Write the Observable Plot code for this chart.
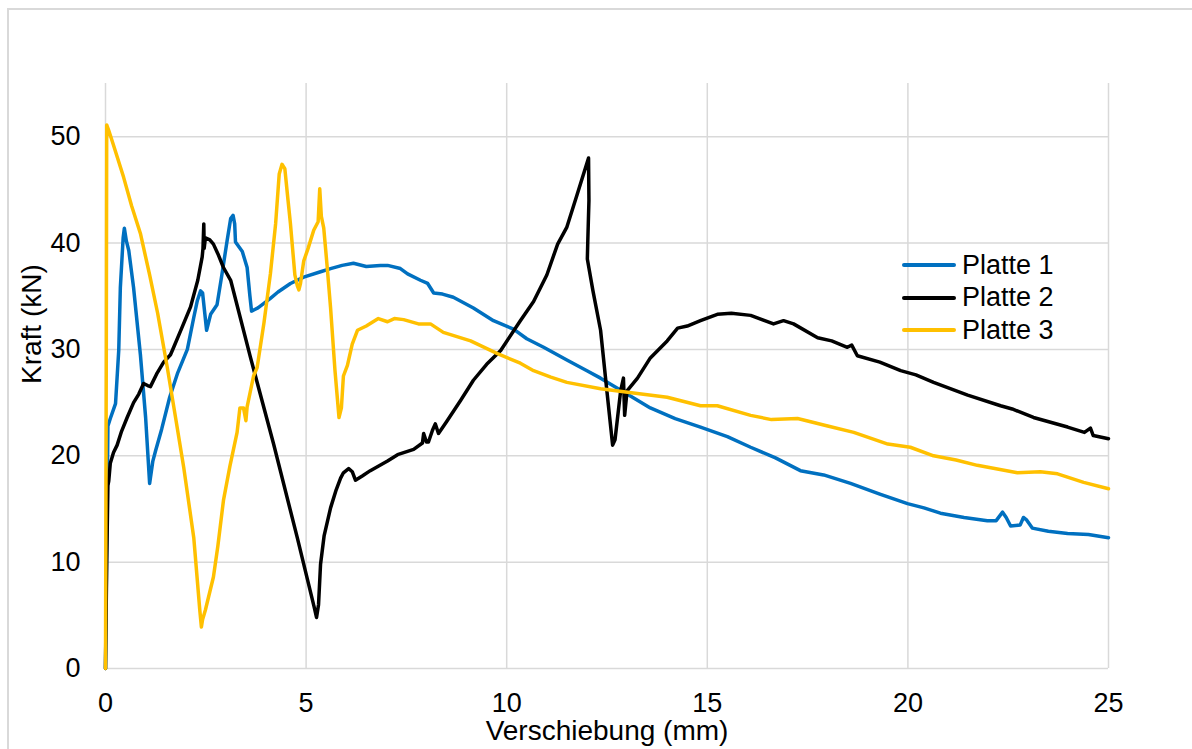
<!DOCTYPE html>
<html><head><meta charset="utf-8">
<script src="https://cdn.jsdelivr.net/npm/d3@7"></script>
<script src="https://cdn.jsdelivr.net/npm/@observablehq/plot@0.6"></script>
<style>
body{margin:0;background:#fff;font-family:"Liberation Sans",Arial,sans-serif;}
#wrap{position:relative;width:1192px;height:749px;overflow:hidden;background:#fff;}
#chart{position:absolute;left:0;top:0;}
#frame{position:absolute;left:7px;top:8px;width:1220px;height:800px;border:2px solid #d9d9d9;box-sizing:border-box;}
#legend{position:absolute;left:902px;top:249px;font-size:27px;color:#000;}
.row{display:flex;align-items:center;height:32.5px;white-space:nowrap;}
.sw{width:54px;height:4px;margin-right:6px;border-radius:2px;}
</style>
</head><body>
<div id="wrap"><div id="chart"></div><div id="frame"></div><div id="legend"></div></div>
<script>
const seriesNames = ["Platte 1", "Platte 2", "Platte 3"];
const seriesColors = ["#0070C0", "#000000", "#FFC000"];
const xTicks = [0, 5, 10, 15, 20, 25];
const yTicks = [0, 10, 20, 30, 40, 50];
const xTitle = "Verschiebung (mm)";
const yTitle = "Kraft (kN)";

// Platte 1: [Verschiebung mm, Kraft kN]
const platte1 = [[0,0],[0.03,12],[0.06,22.8],[0.12,23.5],[0.25,24.9],[0.33,29.9],[0.37,35.8],[0.44,40.5],[0.47,41.4],[0.52,40.2],[0.58,39.3],[0.7,35.8],[0.87,29.5],[1.0,23.6],[1.1,17.4],[1.18,19.5],[1.25,20.5],[1.4,22.5],[1.6,25.5],[1.8,27.8],[2.04,30],[2.2,33],[2.29,34.6],[2.37,35.5],[2.42,35.3],[2.52,31.8],[2.62,33.3],[2.78,34.2],[2.9,37],[3.03,40.2],[3.12,42.3],[3.18,42.6],[3.22,41.8],[3.24,40.1],[3.41,39.2],[3.53,37.7],[3.6,35],[3.64,33.6],[3.8,33.9],[3.94,34.3],[4.11,34.8],[4.3,35.4],[4.61,36.2],[4.94,36.8],[5.36,37.3],[5.61,37.6],[5.9,37.9],[6.18,38.1],[6.5,37.8],[6.85,37.9],[7.03,37.9],[7.35,37.6],[7.53,37.1],[7.85,36.5],[8.03,36.2],[8.18,35.3],[8.4,35.2],[8.67,34.9],[9.17,33.9],[9.67,32.7],[10.17,31.9],[10.5,31],[10.92,30.2],[11.5,29],[12.0,28],[12.34,27.3],[13.0,25.8],[13.58,24.5],[14.2,23.5],[14.83,22.7],[15.5,21.8],[16.08,20.8],[16.7,19.8],[17.32,18.6],[17.9,18.2],[18.57,17.4],[19.3,16.4],[19.99,15.5],[20.4,15.1],[20.81,14.6],[21.4,14.2],[21.98,13.9],[22.2,13.9],[22.36,14.7],[22.45,14.2],[22.56,13.4],[22.8,13.5],[22.88,14.2],[22.95,14.0],[23.1,13.2],[23.5,12.9],[23.98,12.7],[24.5,12.6],[25,12.3]];

// Platte 2
const platte2 = [[0,0],[0.03,10],[0.06,17.2],[0.08,17.6],[0.12,19.3],[0.2,20.3],[0.29,21],[0.4,22.3],[0.54,23.6],[0.7,25],[0.83,25.8],[0.95,26.8],[1.05,26.6],[1.12,26.5],[1.29,27.8],[1.45,28.8],[1.62,29.5],[1.7,30.2],[1.9,32],[2.12,34],[2.3,36.5],[2.41,38.7],[2.43,39.5],[2.45,41.8],[2.46,39.5],[2.49,40.5],[2.6,40.3],[2.69,39.9],[2.8,39],[2.94,37.7],[3.12,36.5],[3.61,29.3],[4.19,21.1],[4.78,12.3],[5.2,5.8],[5.26,4.8],[5.31,6],[5.36,9.8],[5.45,12.5],[5.61,15.1],[5.75,16.8],[5.86,17.9],[5.93,18.4],[6.06,18.8],[6.15,18.5],[6.23,17.7],[6.4,18.1],[6.6,18.6],[7.03,19.5],[7.28,20.1],[7.68,20.6],[7.9,21.2],[7.93,22.1],[8.0,21.3],[8.05,21.3],[8.15,22.4],[8.22,23],[8.3,22.1],[8.5,23.2],[8.85,25.2],[9.17,27.1],[9.5,28.6],[9.85,29.9],[10.34,32.7],[10.67,34.5],[11.0,37],[11.27,39.9],[11.5,41.5],[11.75,44.5],[12.04,48.0],[12.05,44],[12.02,40],[12.01,38.5],[12.15,35.5],[12.34,31.8],[12.5,26],[12.64,21.0],[12.7,21.5],[12.84,26.1],[12.91,27.3],[12.94,23.8],[13.0,26.1],[13.26,27.3],[13.58,29.2],[14.0,30.8],[14.26,32],[14.5,32.2],[14.83,32.7],[15.25,33.3],[15.6,33.4],[16.08,33.2],[16.65,32.4],[16.9,32.7],[17.15,32.4],[17.75,31.1],[18.1,30.8],[18.49,30.2],[18.6,30.4],[18.74,29.4],[19.3,28.8],[19.82,28.0],[20.2,27.6],[20.64,26.9],[21.49,25.7],[22.31,24.7],[22.6,24.4],[23.13,23.6],[23.98,22.7],[24.4,22.2],[24.55,22.6],[24.62,21.9],[25,21.6]];

// Platte 3
const platte3 = [[0,0],[0.02,30],[0.03,51.1],[0.08,50.6],[0.2,49.2],[0.45,46.2],[0.65,43.5],[0.87,40.9],[1.1,37],[1.3,33.4],[1.54,28.3],[1.75,23.5],[1.95,18.9],[2.2,12.3],[2.35,5.5],[2.39,3.9],[2.42,4.6],[2.49,5.5],[2.69,8.6],[2.8,11.5],[2.94,15.8],[3.1,19],[3.28,22.2],[3.35,24.5],[3.44,24.5],[3.5,23.3],[3.53,24.6],[3.69,27.5],[3.78,28.3],[3.95,32.5],[4.11,37.1],[4.24,41.8],[4.33,46.5],[4.4,47.4],[4.47,47],[4.55,44],[4.61,41.8],[4.72,37],[4.78,36],[4.82,35.6],[4.86,36.2],[4.94,38.3],[5.05,39.5],[5.19,41.2],[5.3,42],[5.34,45.1],[5.38,42.5],[5.44,41.4],[5.52,38],[5.61,33.9],[5.72,28],[5.82,23.6],[5.88,24.5],[5.93,27.5],[6.03,28.5],[6.15,30.5],[6.28,31.8],[6.5,32.2],[6.8,32.9],[7.03,32.6],[7.2,32.9],[7.43,32.8],[7.8,32.4],[8.1,32.4],[8.42,31.6],[9.1,30.8],[9.77,29.6],[10.34,28.7],[10.67,28],[11.1,27.4],[11.5,26.9],[12.34,26.3],[13.16,25.9],[14.0,25.5],[14.83,24.7],[15.25,24.7],[16.08,23.8],[16.6,23.4],[17.25,23.5],[18.0,22.8],[18.65,22.2],[19.5,21.1],[20.06,20.8],[20.64,20],[21.2,19.6],[21.73,19.1],[22.73,18.4],[23.3,18.5],[23.73,18.3],[24.38,17.5],[25,16.9]];

const seriesData = [platte1, platte2, platte3];
const font = "'Liberation Sans', Arial, sans-serif";
const gridStyle = {stroke: "#d9d9d9", strokeOpacity: 1, strokeWidth: 1.5};

const chart = Plot.plot({
  width: 1192, height: 749,
  marginLeft: 105, marginRight: 84, marginTop: 83, marginBottom: 81,
  x: {domain: [0, 25]},
  y: {domain: [0, 55]},
  style: {fontFamily: font, fontSize: "27px", color: "#000", background: "transparent"},
  marks: [
    Plot.gridX(xTicks, gridStyle),
    Plot.gridY(yTicks, gridStyle),
    ...seriesData.map((d, i) => Plot.line(d, {x: p => p[0], y: p => p[1], stroke: seriesColors[i], strokeWidth: 3.5, strokeLinejoin: "round", strokeLinecap: "round"})),
    Plot.axisX(xTicks, {tickSize: 0, tickPadding: 24, fontSize: 27, label: null}),
    Plot.axisY(yTicks, {tickSize: 0, tickPadding: 25, fontSize: 27, label: null}),
    Plot.text([xTitle], {text: d => d, frameAnchor: "bottom", lineAnchor: "middle", dy: 63, fontSize: 28}),
    Plot.text([yTitle], {text: d => d, frameAnchor: "left", lineAnchor: "middle", rotate: -90, dx: -73, dy: 8, fontSize: 28})
  ]
});
document.getElementById("chart").appendChild(chart);

const legend = document.getElementById("legend");
seriesNames.forEach((name, i) => {
  const row = document.createElement("div");
  row.className = "row";
  const sw = document.createElement("div");
  sw.className = "sw";
  sw.style.background = seriesColors[i];
  const lab = document.createElement("span");
  lab.textContent = name;
  row.appendChild(sw); row.appendChild(lab);
  legend.appendChild(row);
});
</script>
</body></html>
